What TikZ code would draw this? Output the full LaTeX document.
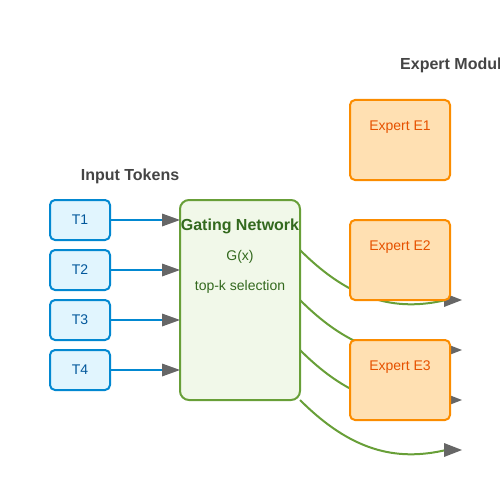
\documentclass[tikz,border=0pt]{standalone}
\usepackage{fontspec}
\setmainfont{Liberation Sans}
\usetikzlibrary{positioning, arrows.meta, calc}

\definecolor{colTitle}{HTML}{444444}
\definecolor{colTokFill}{HTML}{E1F5FE}
\definecolor{colTokDraw}{HTML}{0288D1}
\definecolor{colTokText}{HTML}{01579B}
\definecolor{colGateFill}{HTML}{F1F8E9}
\definecolor{colGateDraw}{HTML}{689F38}
\definecolor{colGateText}{HTML}{33691E}
\definecolor{colExpFill}{HTML}{FFE0B2}
\definecolor{colExpDraw}{HTML}{FB8C00}
\definecolor{colExpText}{HTML}{E65100}
\definecolor{colTip}{HTML}{666666}

\begin{document}
\begin{tikzpicture}[x=1pt, y=-1pt,
  title/.style={anchor=base, inner sep=0pt, text=colTitle, font=\fontsize{16}{18}\selectfont\bfseries},
  token/.style={rectangle, rounded corners=5pt, draw=colTokDraw, fill=colTokFill, line width=2pt, minimum width=60pt, minimum height=40pt, outer sep=0pt, text=colTokText, font=\fontsize{14}{16}\selectfont},
  gate/.style={rectangle, rounded corners=9pt, draw=colGateDraw, fill=colGateFill, line width=2pt, minimum width=120pt, minimum height=200pt, outer sep=0pt},
  gatetitle/.style={anchor=base, inner sep=0pt, text=colGateText, font=\fontsize{16}{18}\selectfont\bfseries},
  gatelabel/.style={anchor=base, inner sep=0pt, text=colGateText, font=\fontsize{14}{16}\selectfont},
  expert/.style={rectangle, rounded corners=5pt, draw=colExpDraw, fill=colExpFill, line width=2pt, minimum width=100pt, minimum height=80pt, outer sep=0pt},
  explabel/.style={anchor=base, inner sep=0pt, text=colExpText, font=\fontsize{14}{16}\selectfont},
  tokarrow/.style={draw=colTokDraw, line width=2pt, -{Triangle[length=18pt, width=13pt, line width=0pt, color=colTip]}},
  route/.style={draw=colGateDraw, line width=2pt, -{Triangle[length=18pt, width=14pt, line width=0pt, color=colTip]}}
]
%
\useasboundingbox (0,0) rectangle (500,500);
\clip (0,0) rectangle (500,500);

%%% INPUT TOKENS
\node [title] (tokens-title) at (130,180) {Input Tokens};
\node [token] (t1) at (80,220) {T1};
\node [token, below=10pt of t1] (t2) {T2};
\node [token, below=10pt of t2] (t3) {T3};
\node [token, below=10pt of t3] (t4) {T4};

%%% GATING NETWORK
\node [gate] (gating) at (240,300) {};
\node [gatetitle] (gating-title) at (240,230) {Gating Network};
\node [gatelabel] (gating-fn) at (240,260) {G(x)};
\node [gatelabel] (gating-topk) at (240,290) {top-k selection};

%%% connections, arrows
\foreach \t in {1,...,4}
\draw [tokarrow] (t\t.east) -- (gating.west |- t\t.east);

%%% routes to the experts
\foreach \i in {1,...,4}{
\coordinate (out\i) at (462,250+50*\i);
\draw [route] ($(gating.north east)+(0,50*\i)$) .. controls +(50,50) and +(-51,12) .. ($(out\i)+(-16,0)$) -- (out\i);
}

%%% EXPERT MODULES
\node [title, anchor=base west] (experts-title) at (400,70) {Expert Modules};
\node [expert] (e1) at (400,140) {};
\node [expert, below=40pt of e1] (e2) {};
\node [expert, below=40pt of e2] (e3) {};
\foreach \e in {1,2,3}
\node [explabel] (e\e-text) at ([yshift=-30pt]e\e.north) {Expert E\e};

\end{tikzpicture}
\end{document}
